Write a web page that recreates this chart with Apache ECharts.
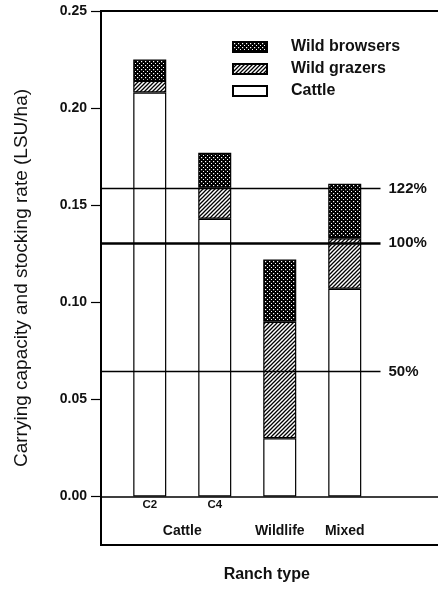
<!DOCTYPE html>
<html>
<head>
<meta charset="utf-8">
<script src="https://cdn.jsdelivr.net/npm/echarts@6/dist/echarts.min.js"></script>
<style>
  html, body { margin: 0; padding: 0; background: #fff; }
  #chart { width: 438px; height: 595px; }
</style>
</head>
<body>
<div id="chart"></div>
<script>
// ranch types (group label + sub code)
const ranchGroups = ['Cattle', 'Cattle', 'Wildlife', 'Mixed']
const ranchCodes = ['C2', 'C4', '', '']

// carrying capacity / stocking rate (LSU/ha), stacked
const cattle = [0.208, 0.143, 0.030, 0.107]
const wildGrazers = [0.006, 0.016, 0.060, 0.026]
const wildBrowsers = [0.011, 0.018, 0.032, 0.028]

// reference levels
const refLevels = [0.1586, 0.1304, 0.0644]
const refLabels = ['122%', '100%', '50%']

const yTicks = [0, 0.05, 0.10, 0.15, 0.20, 0.25]

const font = 'Liberation Sans, Arial, Helvetica, sans-serif'

// half-width slots on the category axis, bars sit on every other slot
const slotCount = 11
const barSlot = i => 1 + 2 * i
const slots = Array.from({length: slotCount}, (_, i) => String(i))
const toSlots = values => {
  const out = slots.map(() => '-')
  values.forEach((v, i) => { out[barSlot(i)] = v })
  return out
}

// x axis labels: sub codes on each bar, group names centred under their bars
const slotLabels = slots.map(() => '')
ranchCodes.forEach((code, i) => {
  if (code) slotLabels[barSlot(i)] = '{code|' + code + '}'
})
const groupIdx = {}
ranchGroups.forEach((g, i) => {
  if (!groupIdx[g]) groupIdx[g] = []
  groupIdx[g].push(i)
})
Object.keys(groupIdx).forEach(g => {
  const idx = groupIdx[g]
  const mid = (barSlot(idx[0]) + barSlot(idx[idx.length - 1])) / 2
  slotLabels[mid] = (slotLabels[mid] ? slotLabels[mid] : '') + '{group|' + g + '}'
})

// fill patterns
const makeHatch = () => {
  const c = document.createElement('canvas')
  c.width = 4
  c.height = 4
  const ctx = c.getContext('2d')
  ctx.fillStyle = '#fff'
  ctx.fillRect(0, 0, 4, 4)
  ctx.strokeStyle = '#000'
  ctx.lineWidth = 1.3
  ctx.beginPath()
  ctx.moveTo(-1, 1); ctx.lineTo(1, -1)
  ctx.moveTo(0, 4); ctx.lineTo(4, 0)
  ctx.moveTo(3, 5); ctx.lineTo(5, 3)
  ctx.stroke()
  return c
}
const makeDots = () => {
  const c = document.createElement('canvas')
  c.width = 4
  c.height = 4
  const ctx = c.getContext('2d')
  ctx.fillStyle = '#000'
  ctx.fillRect(0, 0, 4, 4)
  ctx.fillStyle = '#fff'
  ctx.fillRect(1, 1, 1.2, 1.2)
  ctx.fillRect(3, 3, 1.2, 1.2)
  return c
}

const refLineEnd = 8.6

const chart = echarts.init(document.getElementById('chart'))

const barBase = {
  type: 'bar',
  stack: 'total',
  barWidth: 33,
  silent: true,
  xAxisIndex: 0
}
const border = { borderColor: '#000', borderWidth: 1.2 }

const option = {
  animation: false,
  backgroundColor: '#fff',
  textStyle: { fontFamily: font },
  grid: {
    left: 101,
    top: 11,
    right: -20.5,
    bottom: 50,
    outerBoundsMode: 'none',
    containLabel: false,
    show: true,
    borderColor: '#000',
    borderWidth: 2,
    backgroundColor: 'transparent'
  },
  legend: {
    orient: 'vertical',
    left: 232,
    top: 39,
    padding: 0,
    icon: 'rect',
    itemWidth: 34,
    itemHeight: 10,
    itemGap: 6,
    selectedMode: false,
    data: ['Wild browsers', 'Wild grazers', 'Cattle'],
    textStyle: {
      fontFamily: font,
      fontSize: 16,
      lineHeight: 16,
      fontWeight: 'bold',
      color: '#111',
      padding: [0, 0, 0, 19]
    }
  },
  xAxis: [
    {
      type: 'category',
      data: slots,
      name: 'Ranch type',
      nameLocation: 'middle',
      nameGap: 22,
      nameMoveOverlap: false,
      nameTextStyle: {
        fontFamily: font,
        fontSize: 16,
        fontWeight: 'bold',
        color: '#111',
        padding: [0, 26, 0, 0]
      },
      axisLine: { onZero: true, lineStyle: { color: '#000', width: 1.5 } },
      axisTick: { show: false },
      splitLine: { show: false },
      axisLabel: {
        interval: 0,
        margin: -47,
        formatter: (v, i) => slotLabels[i],
        rich: {
          code: { fontFamily: font, fontSize: 11.5, fontWeight: 'bold', color: '#111', lineHeight: 14 },
          group: { fontFamily: font, fontSize: 14, fontWeight: 'bold', color: '#111', lineHeight: 66 }
        }
      }
    },
    {
      // helper axis for the reference lines
      type: 'value',
      min: 0,
      max: slotCount,
      show: false
    }
  ],
  yAxis: {
    type: 'value',
    min: -0.025,
    max: 0.25,
    name: 'Carrying capacity and stocking rate (LSU/ha)',
    nameLocation: 'middle',
    nameGap: 70,
    nameMoveOverlap: false,
    nameTextStyle: { fontFamily: font, fontSize: 19, color: '#111' },
    axisLine: { show: true, onZero: false, lineStyle: { color: '#000', width: 2 } },
    axisTick: { show: true, customValues: yTicks, length: 10, lineStyle: { color: '#000', width: 1.2 } },
    axisLabel: {
      customValues: yTicks,
      margin: 14,
      fontFamily: font,
      fontSize: 14,
      fontWeight: 'bold',
      color: '#111',
      formatter: v => v.toFixed(2)
    },
    splitLine: { show: false }
  },
  series: [
    Object.assign({}, barBase, {
      name: 'Cattle',
      itemStyle: Object.assign({ color: '#fff' }, border),
      data: toSlots(cattle)
    }),
    Object.assign({}, barBase, {
      name: 'Wild grazers',
      itemStyle: Object.assign({ color: { image: makeHatch(), repeat: 'repeat' } }, border),
      data: toSlots(wildGrazers)
    }),
    Object.assign({}, barBase, {
      name: 'Wild browsers',
      itemStyle: Object.assign({ color: { image: makeDots(), repeat: 'repeat' } }, border),
      data: toSlots(wildBrowsers)
    }),
    {
      name: 'reference',
      type: 'line',
      xAxisIndex: 1,
      data: [],
      z: 5,
      silent: true,
      markLine: {
        silent: true,
        symbol: 'none',
        animation: false,
        data: refLevels.map((lvl, i) => [
          {
            coord: [0, lvl],
            lineStyle: { color: '#000', type: 'solid', width: refLabels[i] === '100%' ? 2.5 : 1.3 }
          },
          {
            coord: [refLineEnd, lvl],
            label: {
              show: true,
              position: 'end',
              distance: 8,
              formatter: refLabels[i],
              fontFamily: font,
              fontSize: 15,
              fontWeight: 'bold',
              color: '#111'
            }
          }
        ])
      }
    }
  ]
}

chart.setOption(option)
</script>
</body>
</html>
